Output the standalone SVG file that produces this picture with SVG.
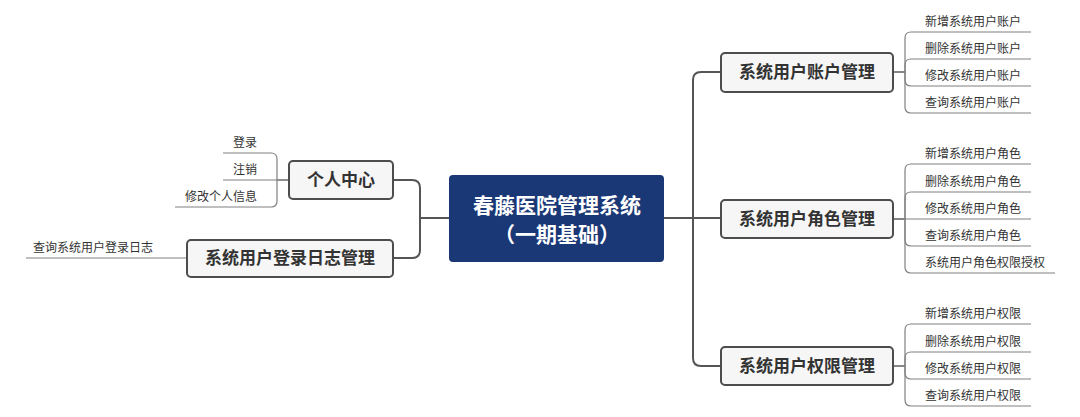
<svg xmlns="http://www.w3.org/2000/svg" width="1080" height="417" viewBox="0 0 1080 417">
<style>
text{font-family:"Noto Sans CJK SC","Microsoft YaHei",sans-serif;}
.main{fill:none;stroke:#555;stroke-width:2;}
.leafc{fill:none;stroke:#808080;stroke-width:1.2;}
.box{fill:#f6f6f6;stroke:#4d4d4d;stroke-width:2;}
.center{fill:#1a3776;}
.ct{fill:#fff;font-size:21px;font-weight:bold;text-anchor:middle;}
.nt{fill:#333;font-size:17px;font-weight:bold;text-anchor:middle;}
.lt{fill:#333;font-size:12px;}
.lr{fill:#333;font-size:12px;text-anchor:end;}
</style>
<rect width="1080" height="417" fill="#fff"/>
<g id="connectors">
<path class="main" d="M664 218 H693"/>
<path class="main" d="M693 218 V80 Q693 72 701 72 H721"/>
<path class="main" d="M693 218 H721"/>
<path class="main" d="M693 218 V358 Q693 366 701 366 H721"/>
<path class="main" d="M449 218 H420"/>
<path class="main" d="M420 218 V188 Q420 180 412 180 H393"/>
<path class="main" d="M420 218 V250 Q420 258 412 258 H393"/>
<path class="leafc" d="M893 72 H905 V38 Q905 32 911 32 H1031"/>
<path class="leafc" d="M893 72 H905 V65 Q905 59 911 59 H1031"/>
<path class="leafc" d="M893 72 H905 V80 Q905 86 911 86 H1031"/>
<path class="leafc" d="M893 72 H905 V107 Q905 113 911 113 H1031"/>
<path class="leafc" d="M893 219 H905 V170 Q905 164 911 164 H1031"/>
<path class="leafc" d="M893 219 H905 V198 Q905 192 911 192 H1031"/>
<path class="leafc" d="M893 219 H1031"/>
<path class="leafc" d="M893 219 H905 V240 Q905 246 911 246 H1031"/>
<path class="leafc" d="M893 219 H905 V267 Q905 273 911 273 H1055"/>
<path class="leafc" d="M893 366 H905 V330 Q905 324 911 324 H1031"/>
<path class="leafc" d="M893 366 H905 V358 Q905 352 911 352 H1031"/>
<path class="leafc" d="M893 366 H905 V373 Q905 379 911 379 H1031"/>
<path class="leafc" d="M893 366 H905 V400 Q905 406 911 406 H1031"/>
<path class="leafc" d="M289 180 H277 V159 Q277 153 271 153 H223"/>
<path class="leafc" d="M289 180 H223"/>
<path class="leafc" d="M289 180 H277 V201 Q277 207 271 207 H175"/>
<path class="leafc" d="M187 258 H26"/>
</g>
<g id="root">
<rect class="center" x="449" y="175" width="215" height="87" rx="4"/>
<text class="ct" x="557" y="213">春藤医院管理系统</text>
<text class="ct" x="557" y="242">（一期基础）</text>
</g>
<g id="account">
<rect class="box" x="721" y="53" width="172" height="39" rx="4"/>
<text class="nt" x="807" y="78">系统用户账户管理</text>
</g>
<g id="role">
<rect class="box" x="721" y="200" width="172" height="38" rx="4"/>
<text class="nt" x="807" y="225">系统用户角色管理</text>
</g>
<g id="perm">
<rect class="box" x="721" y="347" width="172" height="38" rx="4"/>
<text class="nt" x="807" y="372">系统用户权限管理</text>
</g>
<g id="personal">
<rect class="box" x="289" y="161" width="104" height="38" rx="4"/>
<text class="nt" x="341" y="186">个人中心</text>
</g>
<g id="log">
<rect class="box" x="187" y="240" width="206" height="37" rx="4"/>
<text class="nt" x="290" y="264">系统用户登录日志管理</text>
</g>
<g id="leaves-account">
<text class="lt" x="925" y="26">新增系统用户账户</text>
<text class="lt" x="925" y="53">删除系统用户账户</text>
<text class="lt" x="925" y="80">修改系统用户账户</text>
<text class="lt" x="925" y="107">查询系统用户账户</text>
</g>
<g id="leaves-role">
<text class="lt" x="925" y="158">新增系统用户角色</text>
<text class="lt" x="925" y="186">删除系统用户角色</text>
<text class="lt" x="925" y="213">修改系统用户角色</text>
<text class="lt" x="925" y="240">查询系统用户角色</text>
<text class="lt" x="925" y="267">系统用户角色权限授权</text>
</g>
<g id="leaves-perm">
<text class="lt" x="925" y="318">新增系统用户权限</text>
<text class="lt" x="925" y="346">删除系统用户权限</text>
<text class="lt" x="925" y="373">修改系统用户权限</text>
<text class="lt" x="925" y="400">查询系统用户权限</text>
</g>
<g id="leaves-personal">
<text class="lr" x="257" y="147">登录</text>
<text class="lr" x="257" y="174">注销</text>
<text class="lr" x="257" y="201">修改个人信息</text>
</g>
<g id="leaves-log">
<text class="lt" x="33" y="252">查询系统用户登录日志</text>
</g>
</svg>
